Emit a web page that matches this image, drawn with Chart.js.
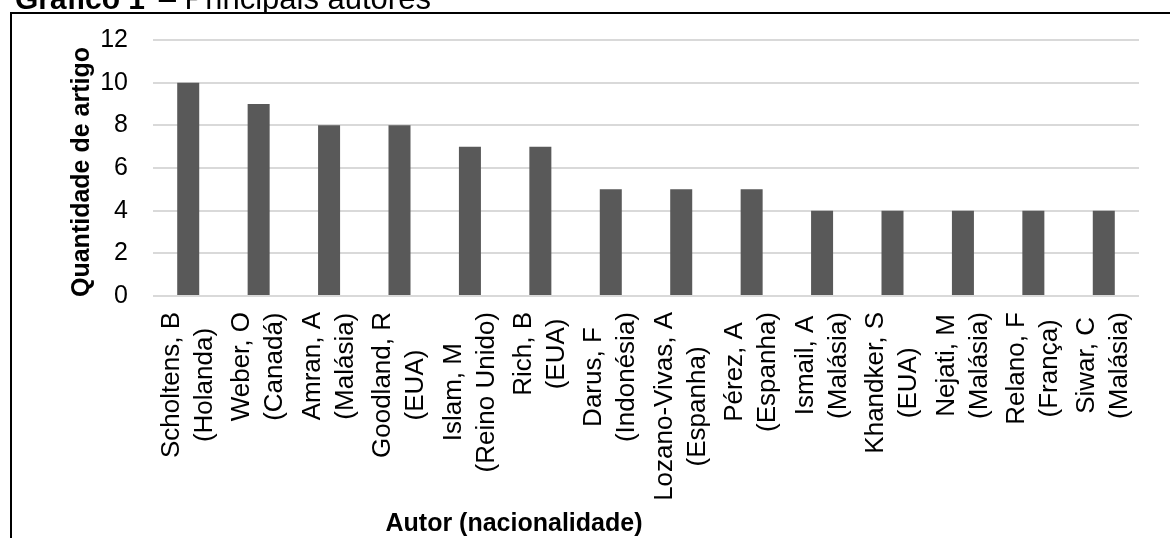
<!DOCTYPE html>
<html>
<head>
<meta charset="utf-8">
<script src="https://cdn.jsdelivr.net/npm/chart.js@4/dist/chart.umd.min.js"></script>
<style>
  html, body { margin: 0; padding: 0; background: #fff; }
  #wrap { position: relative; width: 1170px; height: 538px; overflow: hidden; }
  #chart { position: absolute; left: 0; top: 0; }
  #frame { position: absolute; left: 10px; top: 12px; width: 2000px; height: 2000px;
           border-left: 2px solid #000; border-top: 2px solid #000; pointer-events: none; }
  #caption { position: absolute; left: 0; top: 0; width: 1170px; height: 12px; overflow: hidden; }
  #caption div { position: absolute; left: 15px; top: -16px; line-height: 30px; white-space: pre;
                 font-family: "Liberation Sans", Arial, sans-serif; font-size: 31px; color: #000; }
  #caption b { font-size: 30px; margin-right: 5px; }
</style>
</head>
<body>
<div id="wrap">
  <canvas id="chart" width="1170" height="538"></canvas>
  <div id="caption"><div><b>Gráfico 1</b> – Principais autores</div></div>
  <div id="frame"></div>
</div>
<script>
// Authors (two-line labels: name / nationality) and number of articles each
const authors = [
  ['Scholtens, B', '(Holanda)'],
  ['Weber, O', '(Canadá)'],
  ['Amran, A', '(Malásia)'],
  ['Goodland, R', '(EUA)'],
  ['Islam, M', '(Reino Unido)'],
  ['Rich, B', '(EUA)'],
  ['Darus, F', '(Indonésia)'],
  ['Lozano-Vivas, A', '(Espanha)'],
  ['Pérez, A', '(Espanha)'],
  ['Ismail, A', '(Malásia)'],
  ['Khandker, S', '(EUA)'],
  ['Nejati, M', '(Malásia)'],
  ['Relano, F', '(França)'],
  ['Siwar, C', '(Malásia)']
];
const articles = [10, 9, 8, 8, 7, 7, 5, 5, 5, 4, 4, 4, 4, 4];
const yTitle = 'Quantidade de artigo';
const xTitle = 'Autor (nacionalidade)';

const FONT = '"Liberation Sans", Arial, sans-serif';

// Draws the rotated category labels (lines centred on each other) and both axis titles
const axisText = {
  id: 'axisText',
  afterDraw(chart) {
    const ctx = chart.ctx;
    const xs = chart.scales.x;
    ctx.save();
    ctx.fillStyle = '#000';
    ctx.font = '26px ' + FONT;
    const lineGap = 33;
    authors.forEach((lines, i) => {
      const x = xs.getPixelForValue(i);
      const maxW = Math.max(...lines.map(l => ctx.measureText(l).width));
      const cy = 312 + maxW / 2;
      lines.forEach((line, j) => {
        const dx = (j - (lines.length - 1) / 2) * lineGap;
        ctx.save();
        ctx.translate(x + dx, cy);
        ctx.rotate(-Math.PI / 2);
        ctx.textAlign = 'center';
        ctx.textBaseline = 'middle';
        ctx.fillText(line, 0, 0);
        ctx.restore();
      });
    });

    ctx.font = 'bold 25px ' + FONT;
    ctx.textAlign = 'center';
    ctx.textBaseline = 'alphabetic';
    ctx.fillText(xTitle, 514, 531);

    ctx.save();
    ctx.translate(89, 172);
    ctx.rotate(-Math.PI / 2);
    ctx.fillText(yTitle, 0, 0);
    ctx.restore();
    ctx.restore();
  }
};

new Chart(document.getElementById('chart'), {
  type: 'bar',
  data: {
    labels: authors,
    datasets: [{
      data: articles,
      backgroundColor: '#595959',
      borderWidth: 0,
      categoryPercentage: 1,
      barPercentage: 0.3125
    }]
  },
  options: {
    responsive: false,
    animation: false,
    devicePixelRatio: 1,
    layout: { padding: { left: 0, top: 37, right: 31, bottom: 242 } },
    plugins: { legend: { display: false }, tooltip: { enabled: false } },
    scales: {
      x: {
        grid: { display: false, drawTicks: false },
        border: { display: false },
        ticks: { display: false }
      },
      y: {
        min: 0,
        max: 12,
        afterFit(scale) { scale.width = 153; },
        ticks: {
          stepSize: 2,
          padding: 25,
          color: '#000',
          font: { family: FONT, size: 25 }
        },
        grid: { color: '#d9d9d9', lineWidth: 2, drawTicks: false },
        border: { display: false }
      }
    }
  },
  plugins: [axisText]
});
</script>
</body>
</html>
